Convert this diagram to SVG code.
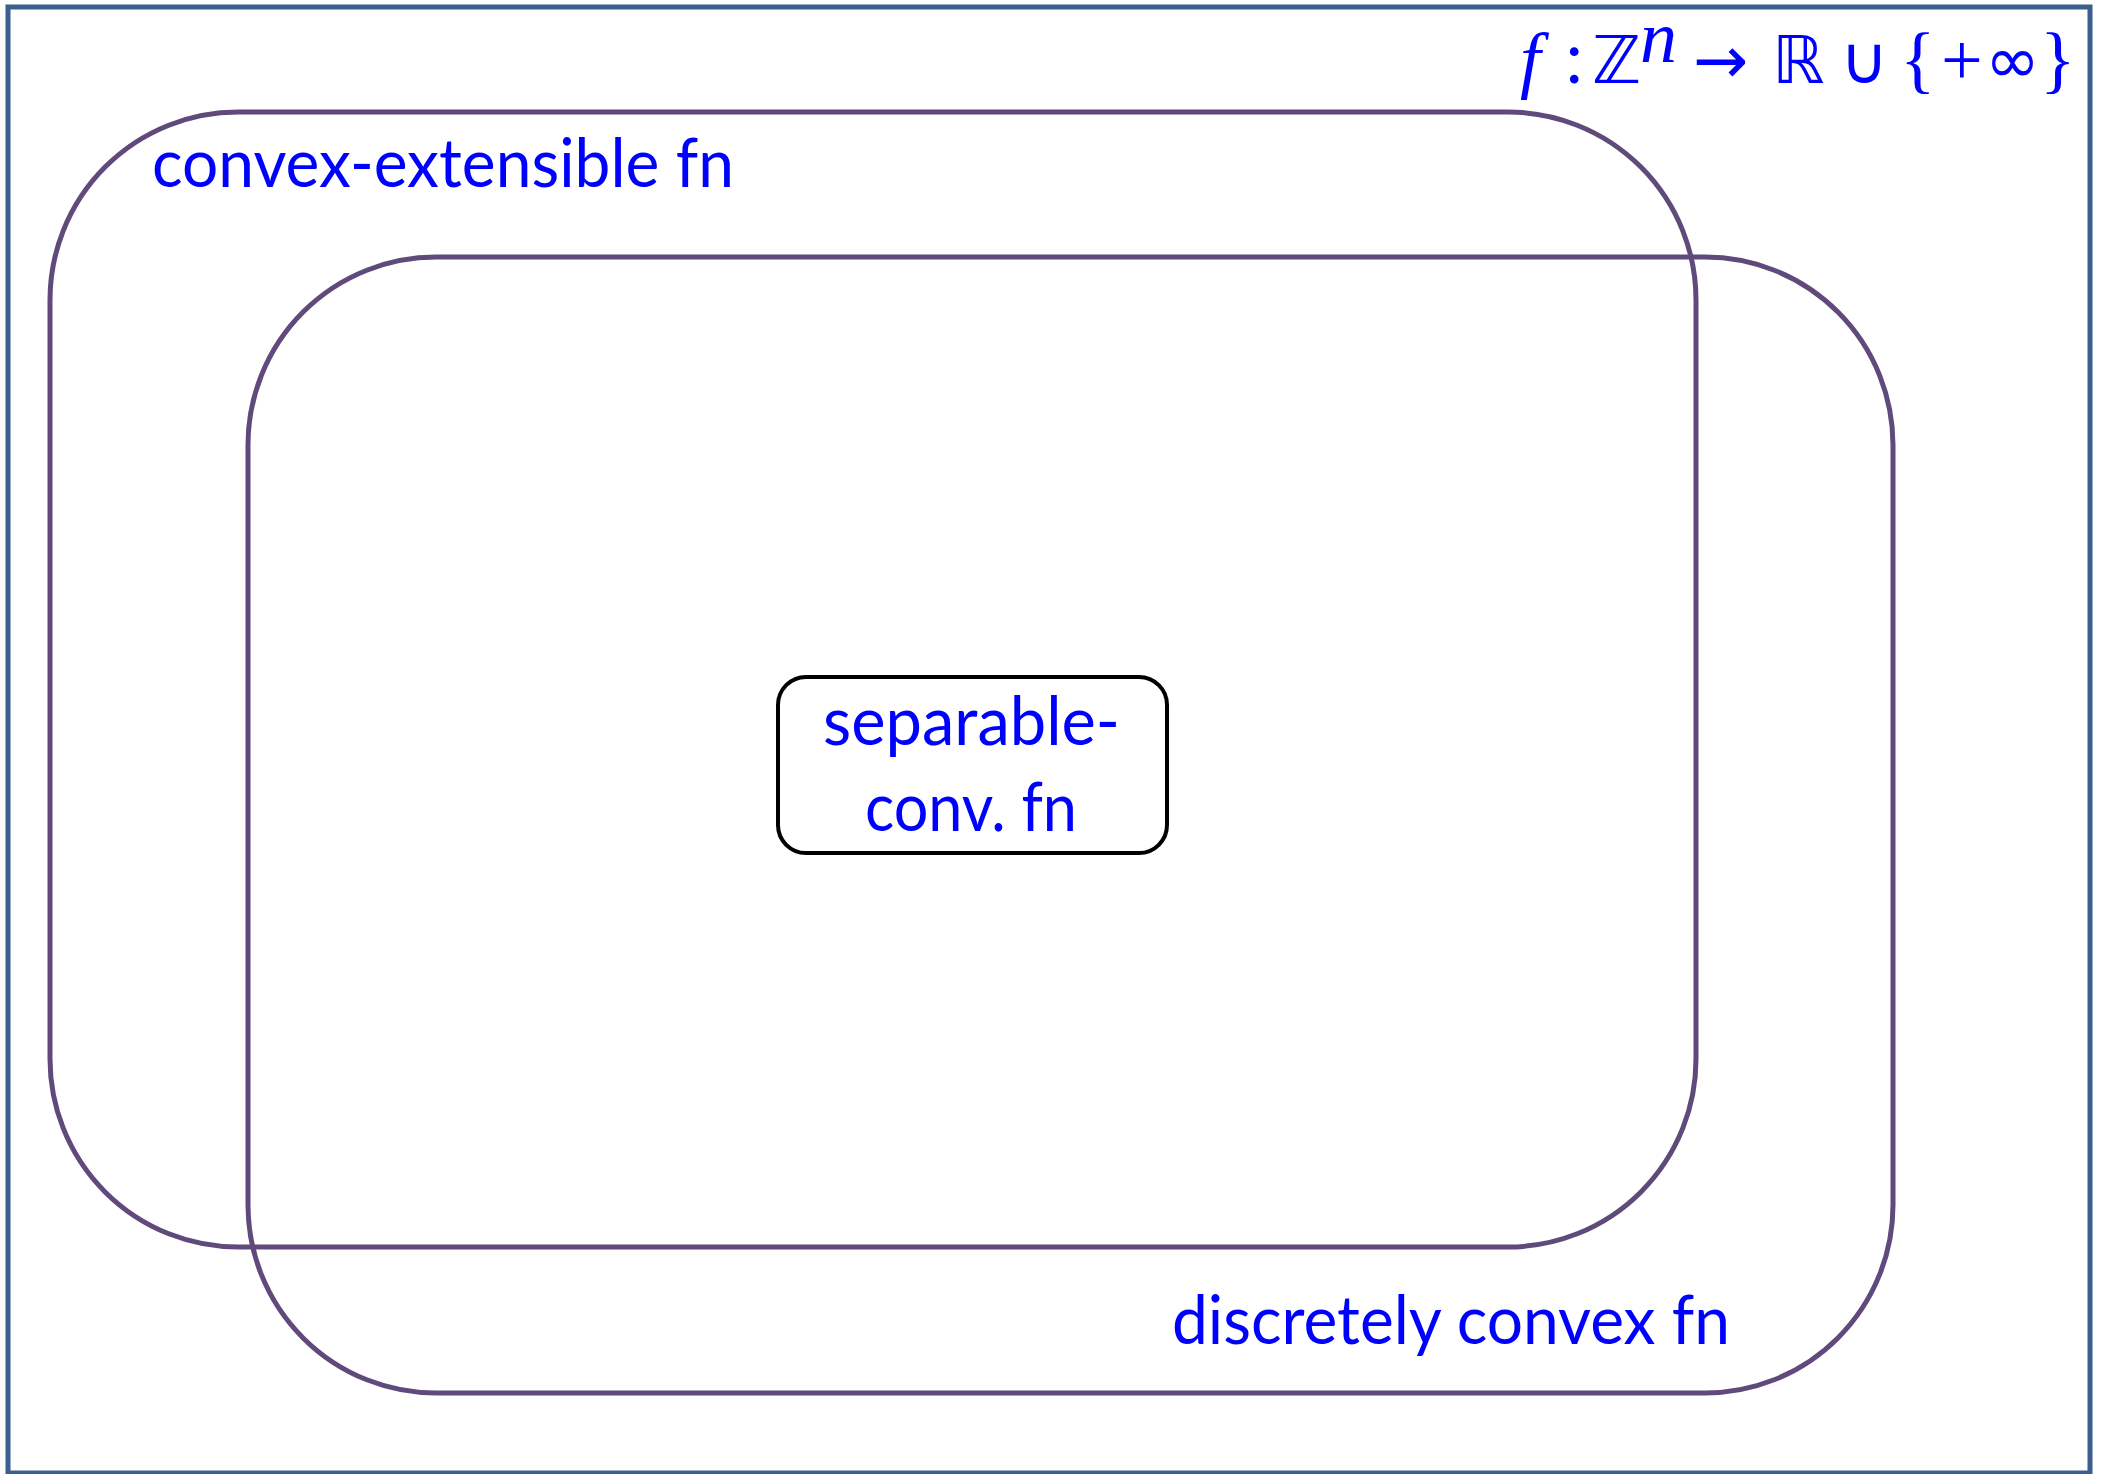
<svg xmlns="http://www.w3.org/2000/svg" width="2105" height="1474" viewBox="0 0 2105 1474">
<style>
.set{fill:none;stroke:#604A7B;stroke-width:5}
.lbl{font-family:Lato,"Open Sans","Liberation Sans",sans-serif;font-size:67px;fill:#0000FF}
.m{fill:#0000FF;font-family:"DejaVu Sans",sans-serif;font-size:66px}
.ms{fill:#0000FF;font-family:"Liberation Serif",serif;font-size:74px}
</style>
<rect width="2105" height="1474" fill="#FFFFFF"/>
<g id="universe">
<rect x="8" y="7" width="2082" height="1466" fill="none" stroke="#3A5F8E" stroke-width="5"/>
<text class="ms" x="1520" y="84" font-style="italic">f</text>
<text class="ms" x="1564" y="83">:</text>
<text class="m" x="1592" y="83" font-size="70">ℤ</text>
<text class="ms" x="1640" y="62" font-style="italic" font-size="44">n</text>
<text class="m" x="1693" y="83" font-size="62">→</text>
<text class="m" x="1772" y="83" font-size="70">ℝ</text>
<text class="m" x="1840" y="83" font-size="64">∪</text>
<text class="ms" x="1900" y="84" font-size="80">{</text>
<text class="ms" x="1941" y="85" font-size="74">+</text>
<text class="m" x="1985" y="83" font-size="64">∞</text>
<text class="ms" x="2040" y="84" font-size="80">}</text>
</g>
<g id="convex-extensible">
<rect class="set" x="50" y="112" width="1646" height="1135" rx="188" ry="188"/>
<text class="lbl" x="152" y="187" textLength="582" lengthAdjust="spacingAndGlyphs">convex-extensible fn</text>
</g>
<g id="discretely-convex">
<rect class="set" x="248" y="257" width="1645" height="1136" rx="188" ry="188"/>
<text class="lbl" x="1172" y="1344" textLength="558" lengthAdjust="spacingAndGlyphs">discretely convex fn</text>
</g>
<g id="separable-convex">
<rect x="778" y="677" width="389" height="176" rx="28" ry="28" fill="#FFFFFF" stroke="#000000" stroke-width="4"/>
<text class="lbl" font-size="62" x="823" y="745" textLength="297" lengthAdjust="spacingAndGlyphs">separable-</text>
<text class="lbl" font-size="62" x="865" y="831" textLength="212" lengthAdjust="spacingAndGlyphs">conv. fn</text>
</g>
<g id="connectors"/>
</svg>
